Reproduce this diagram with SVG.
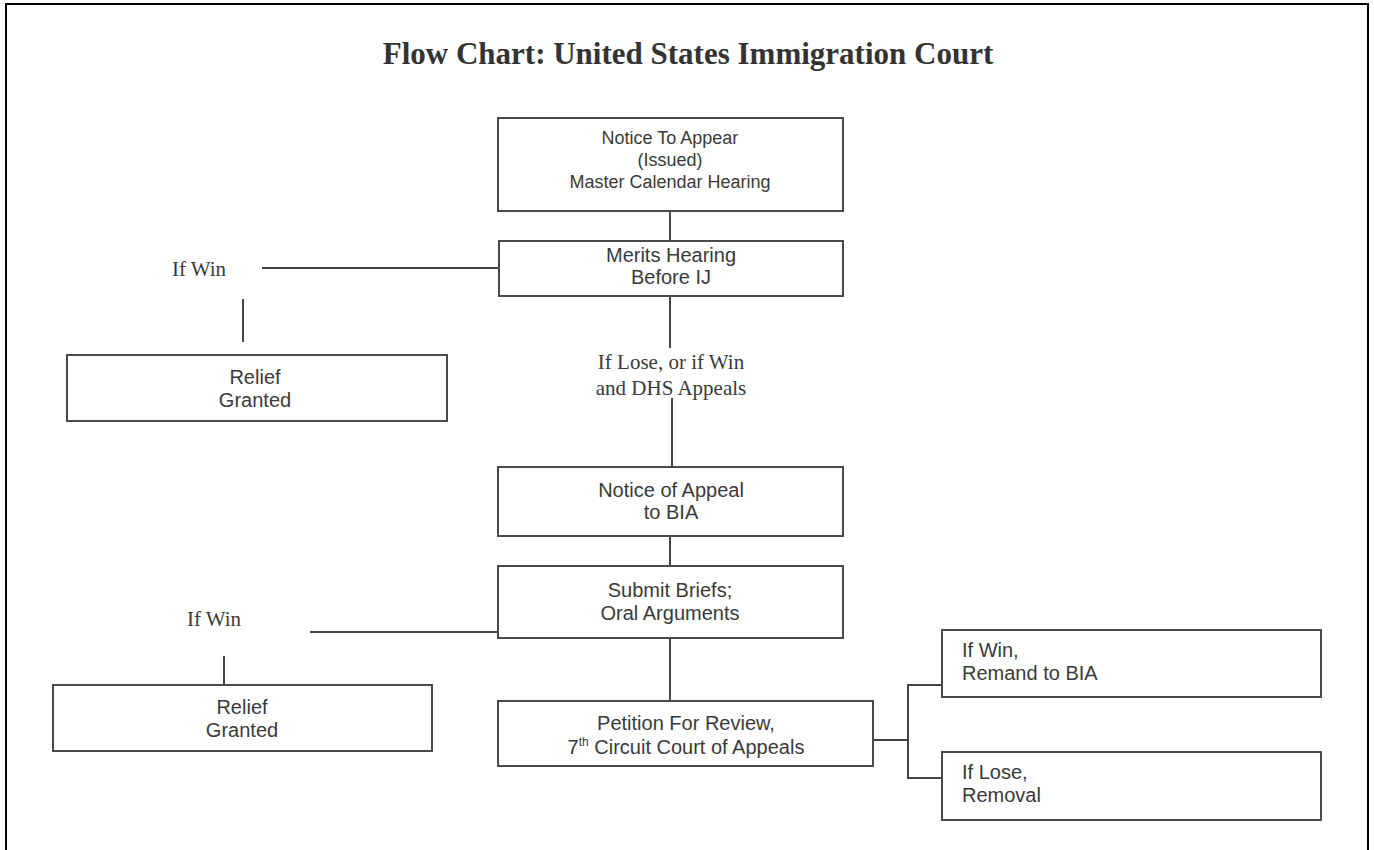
<svg xmlns="http://www.w3.org/2000/svg" width="1374" height="850" viewBox="0 0 1374 850">
<style>
.box{fill:#fff;stroke:#4a4a4a;stroke-width:2}
.t{font-family:"Liberation Sans",Arial,sans-serif;font-size:20px;fill:#3a3a3a;text-anchor:middle}
.ts{font-size:18px}
.tl{font-family:"Liberation Sans",Arial,sans-serif;font-size:20px;fill:#3a3a3a}
.lab{font-family:"Liberation Serif","Times New Roman",serif;font-size:21px;fill:#3a3a3a;text-anchor:middle}
.c{stroke:#444;stroke-width:2;fill:none}
</style>
<rect x="0" y="0" width="1374" height="850" fill="#fff"/>
<rect x="6" y="4" width="1362" height="852" fill="none" stroke="#000" stroke-width="2"/>
<text x="688" y="64" font-family="Liberation Serif,'Times New Roman',serif" font-weight="bold" font-size="31" fill="#333" text-anchor="middle">Flow Chart: United States Immigration Court</text>
<g id="connectors">
<line class="c" x1="670" y1="211" x2="670" y2="241"/>
<line class="c" x1="262" y1="268" x2="499" y2="268"/>
<line class="c" x1="243" y1="299" x2="243" y2="342"/>
<line class="c" x1="670" y1="296" x2="670" y2="348"/>
<line class="c" x1="672" y1="398" x2="672" y2="467"/>
<line class="c" x1="670" y1="536" x2="670" y2="566"/>
<line class="c" x1="310" y1="632" x2="498" y2="632"/>
<line class="c" x1="224" y1="656" x2="224" y2="685"/>
<line class="c" x1="670" y1="638" x2="670" y2="701"/>
<line class="c" x1="873" y1="740" x2="908" y2="740"/>
<line class="c" x1="908" y1="684" x2="908" y2="779"/>
<line class="c" x1="907" y1="685" x2="942" y2="685"/>
<line class="c" x1="907" y1="778" x2="942" y2="778"/>
</g>
<g id="labels">
<text class="lab" x="199" y="276">If Win</text>
<text class="lab" x="671" y="369">If Lose, or if Win</text>
<text class="lab" x="671" y="395">and DHS Appeals</text>
<text class="lab" x="214" y="626">If Win</text>
</g>
<g id="n1"><rect class="box" x="498" y="118" width="345" height="93"/>
<text class="t ts" x="670" y="144">Notice To Appear</text><text class="t ts" x="670" y="166">(Issued)</text><text class="t ts" x="670" y="188">Master Calendar Hearing</text></g>
<g id="n2"><rect class="box" x="499" y="241" width="344" height="55"/>
<text class="t" x="671" y="262">Merits Hearing</text><text class="t" x="671" y="284">Before IJ</text></g>
<g id="n3"><rect class="box" x="67" y="355" width="380" height="66"/>
<text class="t" x="255" y="384">Relief</text><text class="t" x="255" y="407">Granted</text></g>
<g id="n4"><rect class="box" x="498" y="467" width="345" height="69"/>
<text class="t" x="671" y="497">Notice of Appeal</text><text class="t" x="671" y="519">to BIA</text></g>
<g id="n5"><rect class="box" x="498" y="566" width="345" height="72"/>
<text class="t" x="670" y="597">Submit Briefs;</text><text class="t" x="670" y="620">Oral Arguments</text></g>
<g id="n6"><rect class="box" x="53" y="685" width="379" height="66"/>
<text class="t" x="242" y="714">Relief</text><text class="t" x="242" y="737">Granted</text></g>
<g id="n7"><rect class="box" x="498" y="701" width="375" height="65"/>
<text class="t" x="686" y="730">Petition For Review,</text><text class="t" x="686" y="754">7<tspan font-size="12" dy="-8">th</tspan><tspan dy="8"> Circuit Court of Appeals</tspan></text></g>
<g id="n8"><rect class="box" x="942" y="630" width="379" height="67"/>
<text class="tl" x="962" y="657">If Win,</text><text class="tl" x="962" y="680">Remand to BIA</text></g>
<g id="n9"><rect class="box" x="942" y="752" width="379" height="68"/>
<text class="tl" x="962" y="779">If Lose,</text><text class="tl" x="962" y="802">Removal</text></g>
</svg>
